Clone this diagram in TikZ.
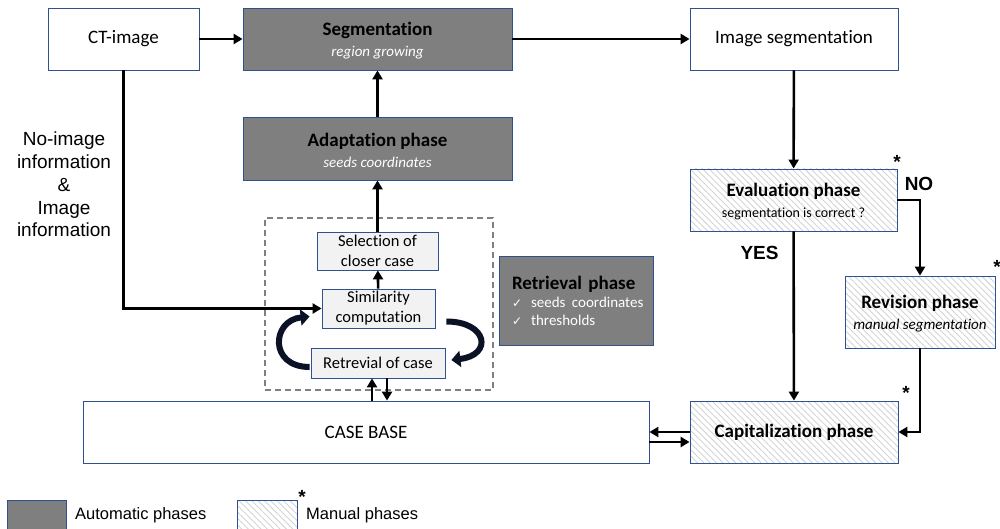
\documentclass[tikz,border=0pt]{standalone}
\usepackage{fontspec}
\setmainfont{Carlito}[Ligatures=NoCommon]
\newfontfamily\arialfont{Liberation Sans}
\newfontfamily\chkfont{DejaVu Sans}
\usetikzlibrary{arrows.meta,patterns.meta,calc}
\definecolor{boxblue}{RGB}{47,82,143}
\definecolor{autogray}{RGB}{127,127,127}
\definecolor{lightbox}{RGB}{242,242,242}
\definecolor{hatchgray}{RGB}{212,212,212}
\definecolor{loopnavy}{RGB}{12,18,38}
\newcommand{\subtxt}{\fontsize{15}{18}\selectfont}
\newcommand{\topstrut}{\rule{0pt}{17pt}}
\tikzset{
% Box styles: plain, automatic (gray) and manual (hatched) phases
plain box/.style={draw=boxblue,line width=0.8pt,fill=white,inner sep=0pt,align=center,font=\fontsize{19}{21}\selectfont},
auto box/.style={plain box,fill=autogray},
manual box/.style={plain box,pattern={Lines[angle=-45,distance=4.5pt,line width=0.9pt]},pattern color=hatchgray},
small box/.style={plain box,fill=lightbox,font=\fontsize{16.5}{20}\selectfont},
group box/.style={draw=gray,line width=1.4pt,dash pattern=on 6pt off 4pt,inner sep=0pt},
% Connectors
flow/.style={line width=2.6pt,-{Triangle[length=9pt,width=10pt]}},
loop arrow/.style={line width=6pt,draw=loopnavy,-{Triangle[length=9pt,width=16pt]}},
% Free labels
arial/.style={font=\arialfont\fontsize{19}{22.8}\selectfont,inner sep=0pt,align=center},
star/.style={font=\arialfont\bfseries\fontsize{19}{21}\selectfont,inner sep=0pt,anchor=base}
}

\begin{document}
\begin{tikzpicture}[x=1pt,y=-1pt]
\useasboundingbox (0,0) rectangle (1000,529);
% retrieval group
\node[group box,minimum width=228,minimum height=172] (grp) at (379,304) {};
% top row
\node[plain box,minimum width=151,minimum height=62] (ct) at (123.5,39) {CT-image};
\node[auto box,minimum width=269,minimum height=62] (seg) at (377.5,39)
  {\topstrut\textbf{Segmentation}\\{\subtxt\itshape\color{white}region growing}};
\node[plain box,minimum width=208,minimum height=62] (imgseg) at (794,39) {Image segmentation};
% adaptation and retrieval
\node[auto box,minimum width=269,minimum height=63] (adapt) at (377.5,148.5)
  {\topstrut\textbf{Adaptation phase}\\{\subtxt\itshape\color{white}seeds coordinates}};
\node[small box,minimum width=121,minimum height=38] (sel) at (377.5,251) {Selection of\\closer case};
\node[small box,minimum width=113,minimum height=39] (sim) at (378.5,308.5) {Similarity\\computation};
\node[small box,minimum width=134,minimum height=30] (ret) at (378,363) {Retrevial of case};
\node[auto box,minimum width=154,minimum height=89,text width=140pt,align=left] (retph) at (576,300.5)
  {\hspace*{6pt}\textbf{Retrieval phase}\\[-3pt]
   \hspace*{6pt}{\subtxt\color{white}{\chkfont\fontsize{12}{14}\selectfont ✓}\hspace{9pt}seeds coordinates}\\[-3pt]
   \hspace*{6pt}{\subtxt\color{white}{\chkfont\fontsize{12}{14}\selectfont ✓}\hspace{9pt}thresholds}};
% case base
\node[plain box,minimum width=566,minimum height=62] (cb) at (366,432) {CASE BASE};
% evaluation side
\node[manual box,minimum width=207,minimum height=62] (eval) at (793.5,200)
  {\topstrut\textbf{Evaluation phase}\\{\fontsize{14}{17}\selectfont segmentation is correct ?}};
\node[manual box,minimum width=150,minimum height=72] (rev) at (920,312)
  {\topstrut\textbf{Revision phase}\\{\subtxt\itshape manual segmentation}};
\node[manual box,minimum width=208,minimum height=62] (cap) at (794,432) {\textbf{Capitalization phase}};
% connectors
\draw[flow] (ct) -- (seg.west |- ct);
\draw[flow] (seg.east |- imgseg) -- (imgseg);
\draw[flow] (adapt) -- (seg);
\draw[flow] (sel) -- (adapt);
\draw[flow] (sim) -- (sel);
\draw[flow] (ct.south) |- (sim.west);
\draw[flow] ([xshift=-6pt]ret.south |- cb.north) -- ([xshift=-6pt]ret.south);
\draw[flow] ([xshift=9pt]ret.south) -- ([xshift=9pt]ret.south |- cb.north);
\draw[flow] (imgseg) -- (eval);
\draw[flow] (eval.east) -| (rev.north);
\draw[flow] (rev.south) |- (cap.east);
\draw[flow] (eval) -- (cap);
\draw[flow] (cap.west) -- (cb.east);
\draw[flow] ([yshift=-10pt]cb.east) -- ([yshift=-10pt]cap.west);
% loop arrows round the similarity step
\draw[loop arrow] ($(ret.west)+(-1,4)$) .. controls ($(ret.west)+(-42,4)$) and ($(sim.west)+(-50,12)$) .. ($(sim.west)+(-12,8)$);
\draw[loop arrow] ($(sim.east)+(11,13)$) .. controls ($(sim.east)+(52,13)$) and ($(ret.east)+(48,-8)$) .. ($(ret.east)+(6,-3)$);
% labels
\node[arial] (info) at (64,184.5) {No-image\\information\\\&\\Image\\information};
\node[arial,font=\arialfont\bfseries\fontsize{19}{21}\selectfont,anchor=base] (no) at (919,191) {NO};
\node[arial,font=\arialfont\bfseries\fontsize{19}{21}\selectfont,anchor=base] (yes) at (759.5,259) {YES};
\node[star] (s1) at (897,169) {*};
\node[star] (s2) at (997,273) {*};
\node[star] (s3) at (906,399) {*};
% legend
\node[auto box,minimum width=59,minimum height=40,anchor=north west] (legauto) at (7,500) {};
\node[manual box,minimum width=60,minimum height=40,anchor=north west] (legman) at (237,500) {};
\node[arial,font=\arialfont\fontsize{16.5}{20}\selectfont,anchor=west] (legautotxt) at (75,515) {Automatic phases};
\node[arial,font=\arialfont\fontsize{16.5}{20}\selectfont,anchor=west] (legmantxt) at (306,515) {Manual phases};
\node[star] (s4) at (302,503) {*};
\end{tikzpicture}
\end{document}
